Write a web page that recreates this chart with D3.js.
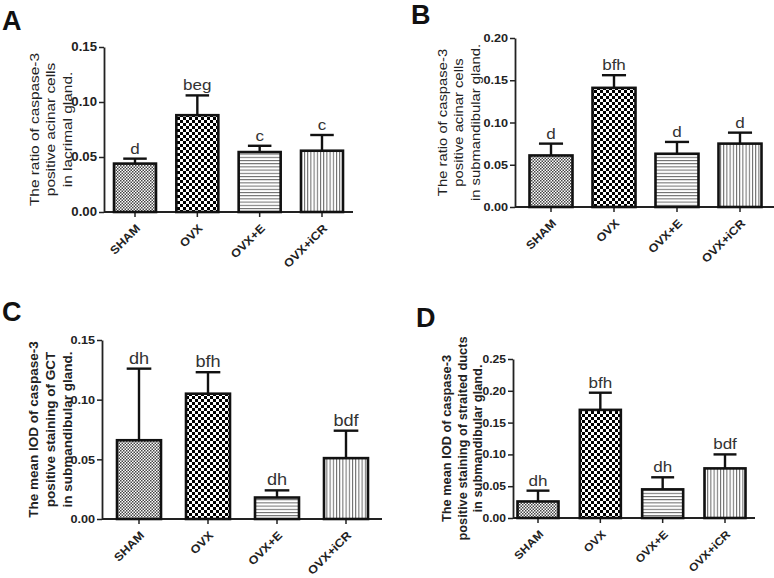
<!DOCTYPE html>
<html lang="en">
<head>
<meta charset="UTF-8">
<title>Caspase-3 panels</title>
<script src="https://cdn.jsdelivr.net/npm/d3@7"></script>
<style>
  body { margin: 0; background: #fff; font-family: "Liberation Sans", Arial, sans-serif; }
  svg { display: block; }
  .tick text { font-weight: bold; fill: #222; }
</style>
</head>
<body>
<svg id="chart" width="774" height="578"></svg>
<script>
// groups (same for every panel)
const groups = ["SHAM", "OVX", "OVX+E", "OVX+iCR"];

// panel A: lacrimal acinar ratio
const meanA = [0.044, 0.088, 0.0545, 0.0557];
const errA  = [0.0045, 0.018, 0.0057, 0.0143];
const sigA  = ["d", "beg", "c", "c"];

// panel B: submandibular acinar ratio
const meanB = [0.061, 0.141, 0.063, 0.075];
const errB  = [0.014, 0.015, 0.014, 0.013];
const sigB  = ["d", "bfh", "d", "d"];

// panel C: GCT IOD
const meanC = [0.066, 0.105, 0.018, 0.051];
const errC  = [0.060, 0.018, 0.006, 0.023];
const sigC  = ["dh", "bfh", "dh", "bdf"];

// panel D: striated ducts IOD
const meanD = [0.026, 0.170, 0.045, 0.078];
const errD  = [0.017, 0.027, 0.019, 0.022];
const sigD  = ["dh", "bfh", "dh", "bdf"];

const ticksA = [0, 0.05, 0.10, 0.15];
const ticksB = [0, 0.05, 0.10, 0.15, 0.20];
const ticksC = [0, 0.05, 0.10, 0.15];
const ticksD = [0, 0.05, 0.10, 0.15, 0.20, 0.25];

const svg = d3.select("#chart");
const defs = svg.append("defs");

// fill patterns
function checker(id, s, col) {
  const p = defs.append("pattern").attr("id", id)
    .attr("patternUnits", "userSpaceOnUse").attr("width", 2 * s).attr("height", 2 * s);
  p.append("rect").attr("width", 2 * s).attr("height", 2 * s).attr("fill", "#fff");
  p.append("rect").attr("width", s).attr("height", s).attr("fill", col);
  p.append("rect").attr("x", s).attr("y", s).attr("width", s).attr("height", s).attr("fill", col);
}
function stripes(id, s, vertical) {
  const p = defs.append("pattern").attr("id", id)
    .attr("patternUnits", "userSpaceOnUse").attr("width", s).attr("height", s);
  p.append("rect").attr("width", s).attr("height", s).attr("fill", "#fff");
  if (vertical) p.append("rect").attr("width", 1).attr("height", s).attr("fill", "#666");
  else p.append("rect").attr("width", s).attr("height", 1).attr("fill", "#666");
}
checker("pSham", 1.5, "#444");
checker("pOvx", 3, "#000");
stripes("pE", 3.2, false);
stripes("pIcr", 3.2, true);
const fills = ["url(#pSham)", "url(#pOvx)", "url(#pE)", "url(#pIcr)"];

function panel(cfg) {
  const g = svg.append("g");
  const y = d3.scaleLinear().domain([0, cfg.ymax]).range([cfg.y0, cfg.y1]);
  const x = d3.scalePoint().domain(groups).range(cfg.xr);

  // y axis
  const ya = g.append("g").attr("transform", `translate(${cfg.ax},0)`)
    .call(d3.axisLeft(y).tickValues(cfg.ticks).tickFormat(d3.format(".2f")).tickSize(5).tickSizeOuter(0));
  ya.select(".domain").attr("stroke", "#222").attr("stroke-width", 1.8);
  ya.selectAll(".tick line").attr("stroke", "#222").attr("stroke-width", 1.5);
  ya.selectAll(".tick text").attr("font-size", cfg.tfs).attr("x", -7 / 1.1)
    .attr("transform", "scale(1.1,1)");

  // x axis line
  g.append("line").attr("x1", cfg.ax).attr("x2", cfg.xend)
    .attr("y1", cfg.y0).attr("y2", cfg.y0).attr("stroke", "#222").attr("stroke-width", 1.8);
  const xt = g.append("g").selectAll("g").data(groups).join("g")
    .attr("transform", d => `translate(${x(d)},${cfg.y0})`);
  xt.append("line").attr("y2", 5).attr("stroke", "#222").attr("stroke-width", 1.5);
  xt.append("text").attr("transform", "translate(6,17) rotate(-45) scale(1.1,1)")
    .attr("text-anchor", "end").attr("font-size", cfg.xfs).attr("font-weight", "bold")
    .attr("fill", "#222").text(d => d);

  const data = groups.map((k, i) => ({ k, i, m: cfg.mean[i], e: cfg.err[i], s: cfg.sig[i] }));
  const bw = cfg.bw;

  // error bars (upper only)
  const eb = g.append("g").selectAll("g").data(data).join("g");
  eb.append("line").attr("x1", d => x(d.k)).attr("x2", d => x(d.k))
    .attr("y1", d => y(d.m)).attr("y2", d => y(d.m + d.e))
    .attr("stroke", "#111").attr("stroke-width", 2.4);
  eb.append("line").attr("x1", d => x(d.k) - bw * 0.28).attr("x2", d => x(d.k) + bw * 0.28)
    .attr("y1", d => y(d.m + d.e)).attr("y2", d => y(d.m + d.e))
    .attr("stroke", "#111").attr("stroke-width", 2.4);

  // bars
  g.append("g").selectAll("rect").data(data).join("rect")
    .attr("x", d => x(d.k) - bw / 2).attr("width", bw)
    .attr("y", d => y(d.m)).attr("height", d => cfg.y0 - y(d.m))
    .attr("fill", d => fills[d.i]).attr("stroke", "#111").attr("stroke-width", 2.6);

  // significance letters
  g.append("g").selectAll("text").data(data).join("text")
    .attr("transform", d => `translate(${x(d.k)},${y(d.m + d.e) - 5}) scale(1.1,1)`)
    .attr("text-anchor", "middle").attr("font-size", cfg.sfs).attr("fill", "#333")
    .text(d => d.s);

  // y title
  const cy = (cfg.y0 + cfg.y1) / 2;
  const tt = g.append("text")
    .attr("transform", `translate(${cfg.tx},${cy}) rotate(-90) scale(${cfg.tst},1)`)
    .attr("text-anchor", "middle").attr("font-size", cfg.tls)
    .attr("font-weight", cfg.tbold ? "bold" : "normal").attr("fill", "#222");
  cfg.title.forEach((t, i) => tt.append("tspan").attr("x", 0).attr("dy", i ? cfg.tlh : 0).text(t));

  // panel letter
  g.append("text").attr("x", cfg.lx).attr("y", cfg.ly)
    .attr("font-size", 27).attr("font-weight", "bold").attr("fill", "#111").text(cfg.letter);
}

panel({ letter: "A", lx: 2, ly: 30, mean: meanA, err: errA, sig: sigA, ticks: ticksA, ymax: 0.15,
  ax: 104, y0: 212, y1: 47, xend: 353, xr: [135, 322], bw: 42, tfs: 12, xfs: 11.5, sfs: 15.5,
  title: ["The ratio of caspase-3", "positive acinar cells", "in lacrimal gland."],
  tx: 39, tlh: 16.5, tls: 13.5, tst: 1.14, tbold: false });

panel({ letter: "B", lx: 411, ly: 24, mean: meanB, err: errB, sig: sigB, ticks: ticksB, ymax: 0.20,
  ax: 515, y0: 207, y1: 38, xend: 774, xr: [551, 740], bw: 43, tfs: 11.5, xfs: 11.5, sfs: 15.5,
  title: ["The ratio of caspase-3", "positive acinar cells", "in submandibular gland."],
  tx: 447, tlh: 16.5, tls: 13, tst: 1.14, tbold: false });

panel({ letter: "C", lx: 2, ly: 321, mean: meanC, err: errC, sig: sigC, ticks: ticksC, ymax: 0.15,
  ax: 102, y0: 519, y1: 340, xend: 382, xr: [139, 346], bw: 44, tfs: 11.5, xfs: 11.5, sfs: 16.5,
  title: ["The mean IOD of caspase-3", "positive staining of GCT", "in submandibular gland."],
  tx: 38, tlh: 17, tls: 13.5, tst: 1, tbold: true });

panel({ letter: "D", lx: 416, ly: 327, mean: meanD, err: errD, sig: sigD, ticks: ticksD, ymax: 0.25,
  ax: 513, y0: 518, y1: 359, xend: 755, xr: [538, 725], bw: 41, tfs: 11, xfs: 11, sfs: 15.5,
  title: ["The mean IOD of caspase-3", "positive staining of straited ducts", "in submandibular gland."],
  tx: 451, tlh: 15.5, tls: 12.8, tst: 1, tbold: true });
</script>
</body>
</html>
